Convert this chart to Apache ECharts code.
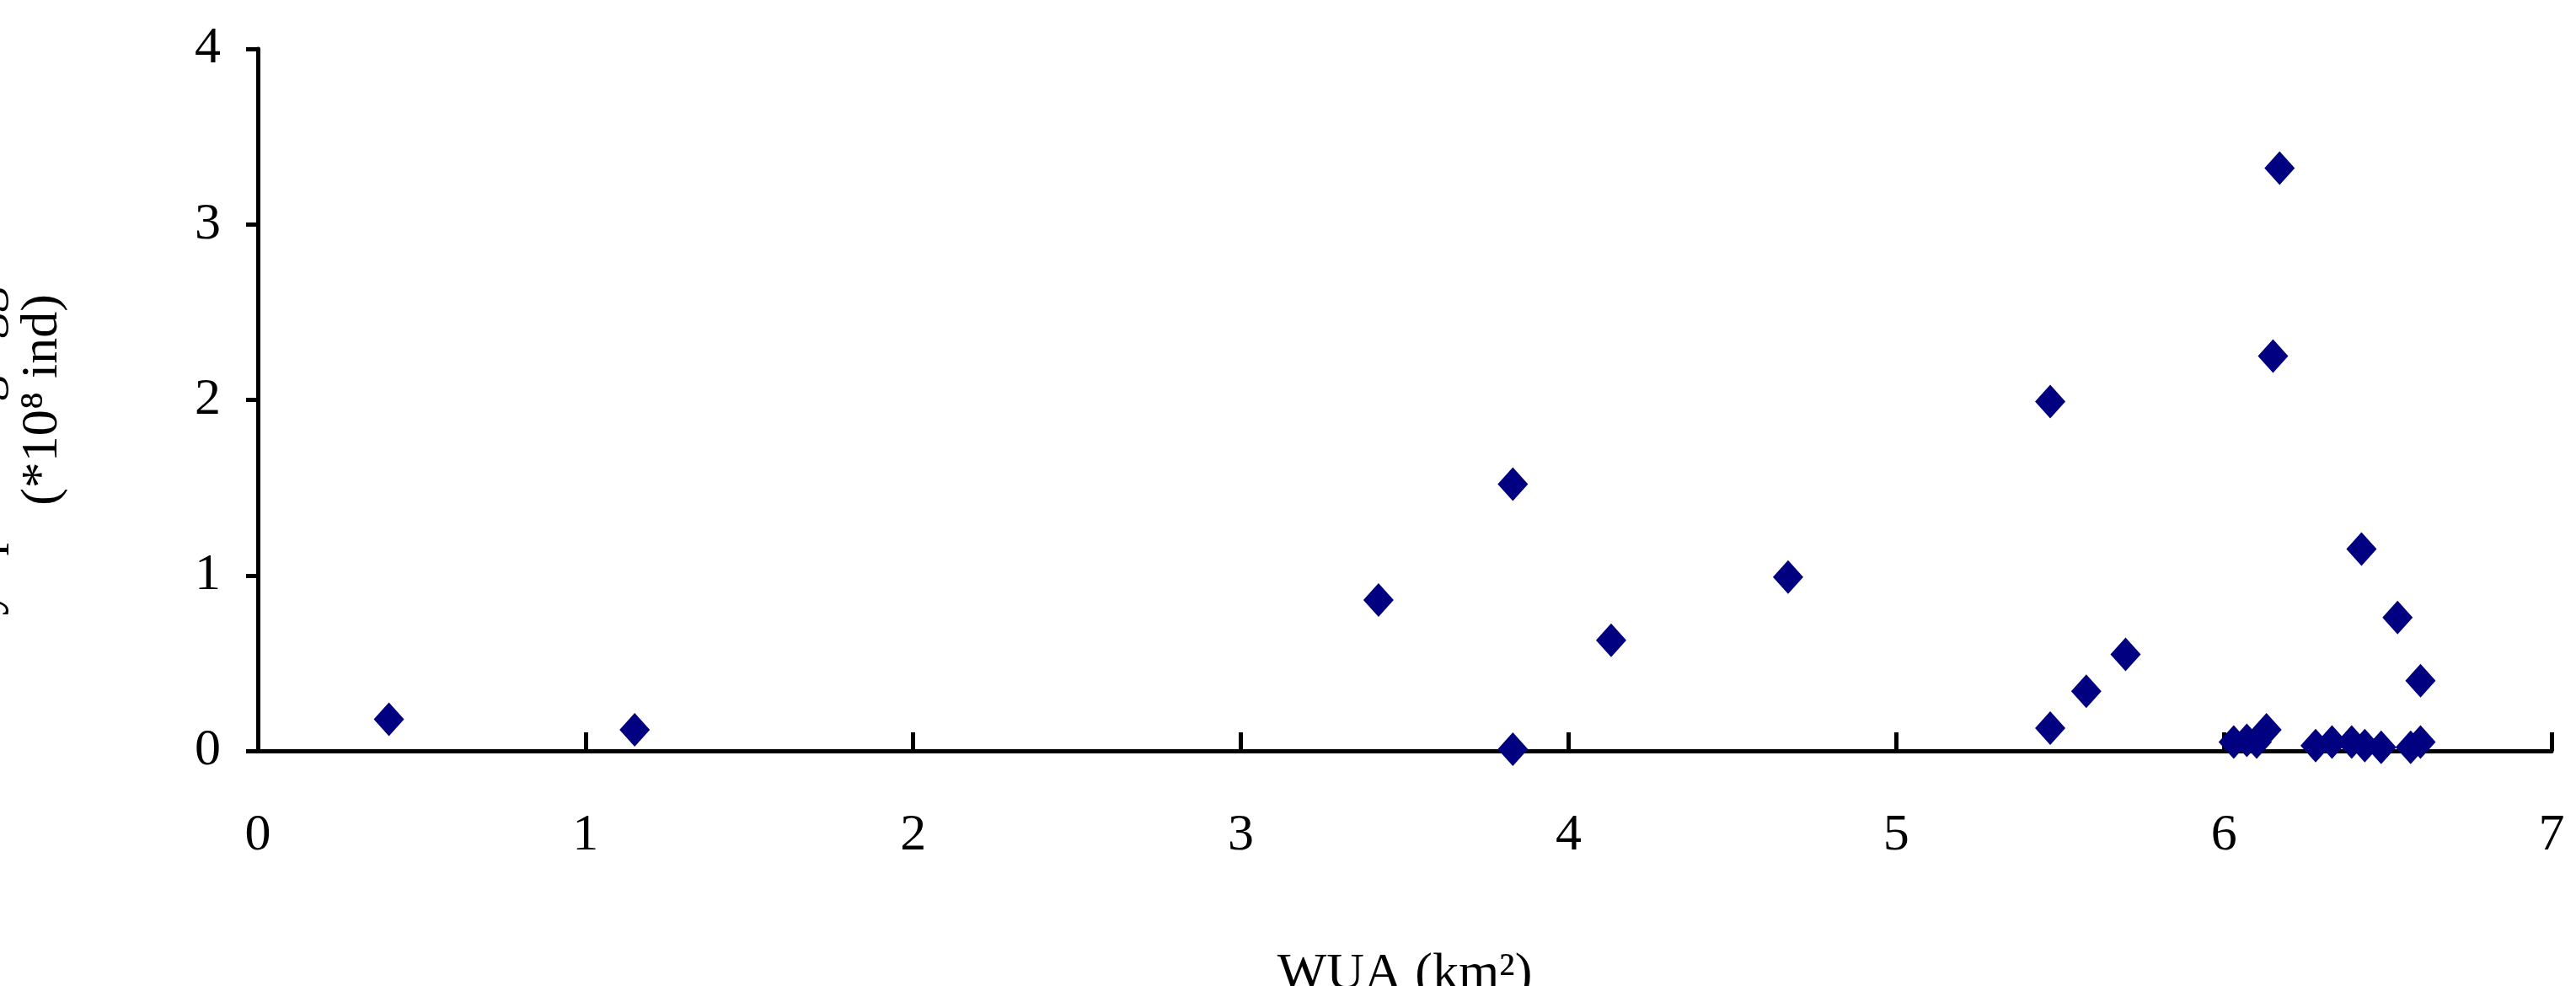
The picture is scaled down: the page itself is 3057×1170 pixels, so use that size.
<!DOCTYPE html><html><head><meta charset="utf-8"><script src="https://cdn.jsdelivr.net/npm/echarts@6/dist/echarts.min.js"></script>
<style>html,body{margin:0;background:#fff}#c{width:3057px;height:1170px}</style></head><body><div id="c"></div><script>
const wua=[0.4,1.15,3.42,3.83,3.83,4.13,4.67,5.47,5.47,5.58,5.7,6.03,6.07,6.1,6.13,6.15,6.17,6.28,6.33,6.39,6.42,6.43,6.48,6.53,6.57,6.6,6.6];
const eggs=[0.18,0.12,0.86,1.52,0.01,0.63,0.99,1.99,0.13,0.34,0.55,0.05,0.06,0.05,0.12,2.25,3.32,0.03,0.05,0.05,1.15,0.03,0.02,0.76,0.02,0.05,0.4];
const xTicks=[0,1,2,3,4,5,6,7], yTicks=[0,1,2,3,4];
const font='Liberation Serif';
const ch=echarts.init(document.getElementById('c'));
ch.setOption({animation:false,
grid:{left:306,right:29,top:58,bottom:279,outerBoundsMode:'none',containLabel:false},
xAxis:{type:'value',min:0,max:7,interval:1,name:'WUA (km²)',nameLocation:'middle',nameGap:235,
 nameTextStyle:{fontFamily:font,fontSize:62,color:'#000'},
 axisLine:{lineStyle:{color:'#000',width:5}},axisTick:{inside:true,length:22,lineStyle:{color:'#000',width:5}},
 axisLabel:{fontFamily:font,fontSize:62,color:'#000',margin:70},splitLine:{show:false}},
yAxis:{type:'value',min:0,max:4,interval:1,name:'Daily spawning egg numbers\n(*10⁸ ind)',nameLocation:'middle',nameGap:220,nameRotate:90,
 nameTextStyle:{fontFamily:font,fontSize:62,color:'#000',lineHeight:70},
 axisLine:{show:true,lineStyle:{color:'#000',width:5}},axisTick:{show:true,length:14,lineStyle:{color:'#000',width:5}},
 axisLabel:{fontFamily:font,fontSize:62,color:'#000',margin:44},splitLine:{show:false}},
series:[{type:'scatter',symbol:'diamond',symbolSize:[36,40],itemStyle:{color:'#000080',opacity:1},clip:true,
 data:wua.map((x,i)=>[x,eggs[i]])}]});
</script></body></html>
